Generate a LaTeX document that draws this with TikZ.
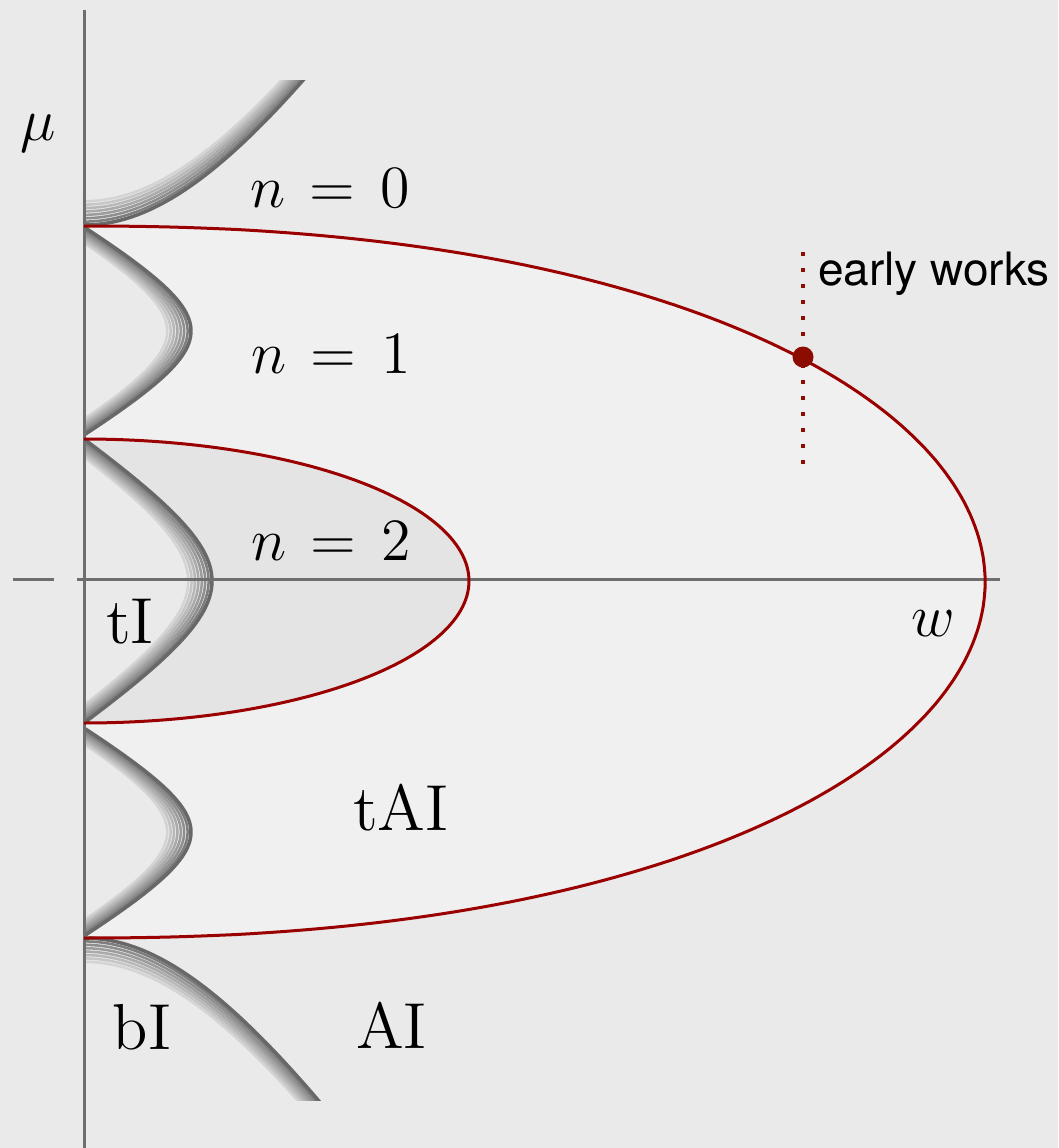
\documentclass[tikz,border=0pt]{standalone}
\usepackage{fontspec}
\newfontfamily\ewfont{TeX Gyre Heros}
\definecolor{bgc}{HTML}{EAEAEA}
\definecolor{outerfill}{HTML}{F0F0F0}
\definecolor{innerfill}{HTML}{E4E4E4}
\definecolor{axisgray}{HTML}{6E6E6E}
\definecolor{redline}{HTML}{9B0000}
\definecolor{dotred}{HTML}{8B0C00}
\begin{document}
\begin{tikzpicture}[x=0.2pt,y=-0.2pt,
  lbl/.style={inner sep=0pt, anchor=base west, font=\fontsize{13}{15}\selectfont},
  axisline/.style={axisgray, line width=0.6pt},
  redcurve/.style={redline, line width=0.6pt}]
\newcommand\eqsp{\mathrel{\mskip2.4mu=\mskip2.4mu}}
\useasboundingbox (0,0) rectangle (1058,1148);
\fill[bgc] (0,0) rectangle (1058,1148);
% regions
\fill[outerfill] plot[domain=-90:90, samples=181] ({84+901*pow(max(cos(\x),0.0001),0.909)},{582+356*sin(\x)}) -- cycle;
\fill[innerfill] plot[domain=-90:90, samples=121] ({84+385*max(cos(\x),0)},{581+142*sin(\x)}) -- cycle;
% bands
\begin{scope}
\clip (84,80) rectangle (1058,1100);
% bulge fills
\fill[bgc] plot[domain=-125:125, samples=80] ({84+107-100.3*(sqrt(1+(1.745*\x/100.3)^2)-1)},{331+\x}) -- cycle;
\fill[bgc] plot[domain=-165:165, samples=80] ({84+128-120*(sqrt(1+(1.529*\x/120)^2)-1)},{581+\x}) -- cycle;
\fill[bgc] plot[domain=-125:125, samples=80] ({84+107-100.3*(sqrt(1+(1.745*\x/100.3)^2)-1)},{832+\x}) -- cycle;
\foreach \k/\g/\w in {7/D4D4D4/0.5,6/C6C6C6/0.5,5/B8B8B8/0.5,4/AAAAAA/0.5,3/9C9C9C/0.5,2/8E8E8E/0.5,1/7E7E7E/0.5,0/686868/0.7}{
  \definecolor{bandc}{HTML}{\g}
  \pgfmathsetmacro\sh{3.4*\k}
  \draw[bandc, line width=\w pt] plot[domain=0:270, samples=70] ({84+\x},{225-\sh-358.7*(sqrt(1+(1.613*\x/358.7)^2)-1)});
  \draw[bandc, line width=\w pt] plot[domain=-135:135, samples=80] ({84+107-\sh-100.3*(sqrt(1+(1.745*\x/100.3)^2)-1)},{331+\x});
  \draw[bandc, line width=\w pt] plot[domain=-175:175, samples=90] ({84+128-\sh-120*(sqrt(1+(1.529*\x/120)^2)-1)},{581+\x});
  \draw[bandc, line width=\w pt] plot[domain=-135:135, samples=80] ({84+107-\sh-100.3*(sqrt(1+(1.745*\x/100.3)^2)-1)},{832+\x});
  \draw[bandc, line width=\w pt] plot[domain=0:270, samples=70] ({84+\x},{938+\sh+358.7*(sqrt(1+(1.613*\x/358.7)^2)-1)});
}
\end{scope}
% axes
\draw[axisline] (84,10) -- (84,1148);
\draw[axisline] (13,579) -- (54,579);
\draw[axisline] (77,579) -- (1000,579);
% red curves
\draw[redcurve] plot[domain=-90:90, samples=181] ({84+901*pow(max(cos(\x),0.0001),0.909)},{582+356*sin(\x)});
\draw[redcurve] plot[domain=-90:90, samples=121] ({84+385*max(cos(\x),0)},{581+142*sin(\x)});
% early works marker
\coordinate (ewtop) at (803,252);
\coordinate (ewbot) at (803,464);
\draw[dotred, line width=0.8pt, dash pattern=on 0.8pt off 2.4pt] (ewtop) -- (ewbot);
\fill[dotred] (803,357) circle[radius=2.1pt];
\node[inner sep=0pt, anchor=base west, font=\ewfont\fontsize{9.2}{11}\selectfont] (ew) at (817,285) {early works};
% labels
\node[lbl] (mu) at (20,140) {$\mu$};
\node[lbl] (w) at (910,636) {$w$};
\node[lbl] (n0) at (249,207) {$n\eqsp 0$};
\node[lbl] (n1) at (250,373) {$n\eqsp 1$};
\node[lbl] (n2) at (250,560) {$n\eqsp 2$};
\node[lbl] (tI) at (105,643) {tI};
\node[lbl] (tAI) at (352,830) {tAI};
\node[lbl] (bI) at (112,1049) {bI};
\node[lbl] (AI) at (355,1048) {AI};
\end{tikzpicture}
\end{document}
